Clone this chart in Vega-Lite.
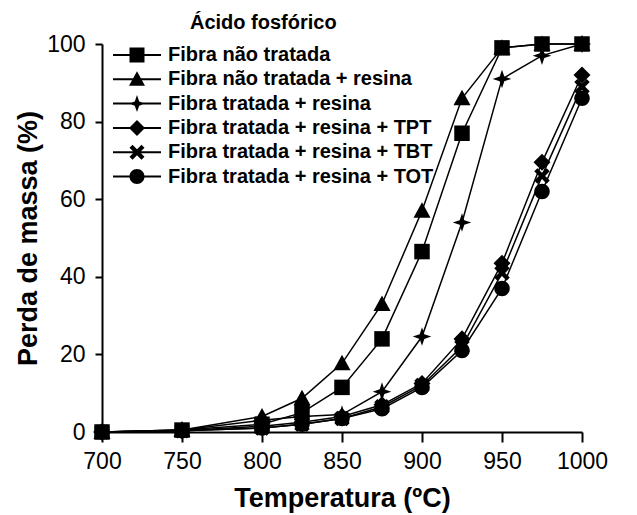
{
  "$schema": "https://vega.github.io/schema/vega-lite/v6.json",
  "width": 480,
  "height": 388,
  "autosize": {"type": "none"},
  "padding": {"left": 102, "top": 44, "right": 55, "bottom": 83},
  "background": "white",
  "title": {"text": "Ácido fosfórico", "anchor": "start", "frame": "group", "dx": 88, "dy": 29, "offset": 13, "baseline": "alphabetic", "font": "Liberation Sans", "fontSize": 20, "fontWeight": "bold", "color": "black"},
  "config": {
    "font": "Liberation Sans",
    "view": {"stroke": null},
    "axis": {"grid": false, "domainColor": "black", "tickColor": "black", "domainWidth": 2, "tickWidth": 2, "labelColor": "black", "titleColor": "black", "labelFont": "Liberation Sans", "titleFont": "Liberation Sans"}
  },
  "data": {
    "values": [
      {"s": "Fibra não tratada", "t": 700, "v": 0},
      {"s": "Fibra não tratada", "t": 750, "v": 0.5},
      {"s": "Fibra não tratada", "t": 800, "v": 2},
      {"s": "Fibra não tratada", "t": 825, "v": 5},
      {"s": "Fibra não tratada", "t": 850, "v": 11.5},
      {"s": "Fibra não tratada", "t": 875, "v": 24},
      {"s": "Fibra não tratada", "t": 900, "v": 46.5},
      {"s": "Fibra não tratada", "t": 925, "v": 77},
      {"s": "Fibra não tratada", "t": 950, "v": 99},
      {"s": "Fibra não tratada", "t": 975, "v": 100},
      {"s": "Fibra não tratada", "t": 1000, "v": 100},
      {"s": "Fibra não tratada + resina", "t": 700, "v": 0},
      {"s": "Fibra não tratada + resina", "t": 750, "v": 0.5},
      {"s": "Fibra não tratada + resina", "t": 800, "v": 4},
      {"s": "Fibra não tratada + resina", "t": 825, "v": 8.7},
      {"s": "Fibra não tratada + resina", "t": 850, "v": 17.7},
      {"s": "Fibra não tratada + resina", "t": 875, "v": 33},
      {"s": "Fibra não tratada + resina", "t": 900, "v": 57},
      {"s": "Fibra não tratada + resina", "t": 925, "v": 86},
      {"s": "Fibra não tratada + resina", "t": 950, "v": 99},
      {"s": "Fibra não tratada + resina", "t": 975, "v": 100},
      {"s": "Fibra não tratada + resina", "t": 1000, "v": 100},
      {"s": "Fibra tratada + resina", "t": 700, "v": 0},
      {"s": "Fibra tratada + resina", "t": 750, "v": 0.5},
      {"s": "Fibra tratada + resina", "t": 800, "v": 3},
      {"s": "Fibra tratada + resina", "t": 825, "v": 4},
      {"s": "Fibra tratada + resina", "t": 850, "v": 4.5},
      {"s": "Fibra tratada + resina", "t": 875, "v": 10.4},
      {"s": "Fibra tratada + resina", "t": 900, "v": 24.6},
      {"s": "Fibra tratada + resina", "t": 925, "v": 54},
      {"s": "Fibra tratada + resina", "t": 950, "v": 91},
      {"s": "Fibra tratada + resina", "t": 975, "v": 97},
      {"s": "Fibra tratada + resina", "t": 1000, "v": 100},
      {"s": "Fibra tratada + resina + TPT", "t": 700, "v": 0},
      {"s": "Fibra tratada + resina + TPT", "t": 750, "v": 0.3},
      {"s": "Fibra tratada + resina + TPT", "t": 800, "v": 1.5},
      {"s": "Fibra tratada + resina + TPT", "t": 825, "v": 2.5},
      {"s": "Fibra tratada + resina + TPT", "t": 850, "v": 4},
      {"s": "Fibra tratada + resina + TPT", "t": 875, "v": 7},
      {"s": "Fibra tratada + resina + TPT", "t": 900, "v": 12.5},
      {"s": "Fibra tratada + resina + TPT", "t": 925, "v": 24},
      {"s": "Fibra tratada + resina + TPT", "t": 950, "v": 43.5},
      {"s": "Fibra tratada + resina + TPT", "t": 975, "v": 69.5},
      {"s": "Fibra tratada + resina + TPT", "t": 1000, "v": 92},
      {"s": "Fibra tratada + resina + TBT", "t": 700, "v": 0},
      {"s": "Fibra tratada + resina + TBT", "t": 750, "v": 0.3},
      {"s": "Fibra tratada + resina + TBT", "t": 800, "v": 1},
      {"s": "Fibra tratada + resina + TBT", "t": 825, "v": 2},
      {"s": "Fibra tratada + resina + TBT", "t": 850, "v": 3.5},
      {"s": "Fibra tratada + resina + TBT", "t": 875, "v": 6.5},
      {"s": "Fibra tratada + resina + TBT", "t": 900, "v": 12},
      {"s": "Fibra tratada + resina + TBT", "t": 925, "v": 22},
      {"s": "Fibra tratada + resina + TBT", "t": 950, "v": 41},
      {"s": "Fibra tratada + resina + TBT", "t": 975, "v": 66},
      {"s": "Fibra tratada + resina + TBT", "t": 1000, "v": 89},
      {"s": "Fibra tratada + resina + TOT", "t": 700, "v": 0},
      {"s": "Fibra tratada + resina + TOT", "t": 750, "v": 0.3},
      {"s": "Fibra tratada + resina + TOT", "t": 800, "v": 1},
      {"s": "Fibra tratada + resina + TOT", "t": 825, "v": 2},
      {"s": "Fibra tratada + resina + TOT", "t": 850, "v": 3.5},
      {"s": "Fibra tratada + resina + TOT", "t": 875, "v": 6},
      {"s": "Fibra tratada + resina + TOT", "t": 900, "v": 11.5},
      {"s": "Fibra tratada + resina + TOT", "t": 925, "v": 21},
      {"s": "Fibra tratada + resina + TOT", "t": 950, "v": 37},
      {"s": "Fibra tratada + resina + TOT", "t": 975, "v": 62},
      {"s": "Fibra tratada + resina + TOT", "t": 1000, "v": 86}
    ]
  },
  "encoding": {
    "x": {
      "field": "t", "type": "quantitative",
      "scale": {"domain": [700, 1000], "nice": false, "zero": false},
      "axis": {"values": [700, 750, 800, 850, 900, 950, 1000], "format": "d", "title": "Temperatura (ºC)", "titleFontSize": 27, "titleFontWeight": "bold", "labelFontSize": 23, "tickSize": 10, "labelPadding": 8, "titlePadding": 12, "labelFlush": false}
    },
    "y": {
      "field": "v", "type": "quantitative",
      "scale": {"domain": [0, 100], "nice": false},
      "axis": {"values": [0, 20, 40, 60, 80, 100], "title": "Perda de massa (%)", "titleFontSize": 27, "titleFontWeight": "bold", "labelFontSize": 23, "tickSize": 7, "labelPadding": 10, "titlePadding": 4}
    }
  },
  "layer": [
    {
      "mark": {"type": "line", "color": "black", "strokeWidth": 1.5},
      "encoding": {"detail": {"field": "s", "type": "nominal"}}
    },
    {
      "mark": {"type": "point", "filled": true, "color": "black", "opacity": 1, "size": 240, "strokeWidth": 0},
      "encoding": {
        "shape": {
          "field": "s", "type": "nominal",
          "scale": {
            "domain": ["Fibra não tratada", "Fibra não tratada + resina", "Fibra tratada + resina", "Fibra tratada + resina + TPT", "Fibra tratada + resina + TBT", "Fibra tratada + resina + TOT"],
            "range": [
              "M-1,-1H1V1H-1Z",
              "M0,-1.1L1.1,0.9L-1.1,0.9Z",
              "M0,-1.2L0.3,-0.3L1.2,0L0.3,0.3L0,1.2L-0.3,0.3L-1.2,0L-0.3,-0.3Z",
              "M0,-1.1L1.1,0L0,1.1L-1.1,0Z",
              "M-1,-0.6L-0.6,-1L0,-0.4L0.6,-1L1,-0.6L0.4,0L1,0.6L0.6,1L0,0.4L-0.6,1L-1,0.6L-0.4,0Z",
              "M1,0A1,1,0,1,1,-1,0A1,1,0,1,1,1,0Z"
            ]
          },
          "legend": null
        }
      }
    },
    {
      "mark": {"type": "point", "filled": true, "color": "black", "opacity": 0, "size": 400},
      "encoding": {
        "shape": {
          "field": "s", "type": "nominal",
          "scale": {
            "domain": ["Fibra não tratada", "Fibra não tratada + resina", "Fibra tratada + resina", "Fibra tratada + resina + TPT", "Fibra tratada + resina + TBT", "Fibra tratada + resina + TOT"],
            "range": [
              "M-2.4,-0.1H2.4V0.1H-2.4ZM-0.75,-0.75H0.75V0.75H-0.75Z",
              "M-2.4,-0.1H2.4V0.1H-2.4ZM0,-0.8L0.8,0.65L-0.8,0.65Z",
              "M-2.4,-0.1H2.4V0.1H-2.4ZM0,-0.85L0.22,-0.22L0.85,0L0.22,0.22L0,0.85L-0.22,0.22L-0.85,0L-0.22,-0.22Z",
              "M-2.4,-0.1H2.4V0.1H-2.4ZM0,-0.8L0.8,0L0,0.8L-0.8,0Z",
              "M-2.4,-0.1H2.4V0.1H-2.4ZM-0.75,-0.45L-0.45,-0.75L0,-0.3L0.45,-0.75L0.75,-0.45L0.3,0L0.75,0.45L0.45,0.75L0,0.3L-0.45,0.75L-0.75,0.45L-0.3,0Z",
              "M-2.4,-0.1H2.4V0.1H-2.4ZM0.75,0A0.75,0.75,0,1,1,-0.75,0A0.75,0.75,0,1,1,0.75,0Z"
            ]
          },
          "legend": {
            "title": null,
            "orient": "none",
            "legendX": 25,
            "legendY": 1,
            "padding": 0,
            "labelFontSize": 20,
            "labelFontWeight": "bold",
            "labelColor": "black",
            "labelOffset": 21,
            "rowPadding": 4.3,
            "symbolSize": 400,
            "symbolFillColor": "black",
            "symbolStrokeColor": "black",
            "symbolStrokeWidth": 0,
            "symbolOpacity": 1,
            "labelLimit": 400,
            "encode": {
              "symbols": {"opacity": {"value": 1}, "fill": {"value": "black"}, "fillOpacity": {"value": 1}}
            }
          }
        }
      }
    }
  ],
  "resolve": {"scale": {"shape": "independent"}}
}
